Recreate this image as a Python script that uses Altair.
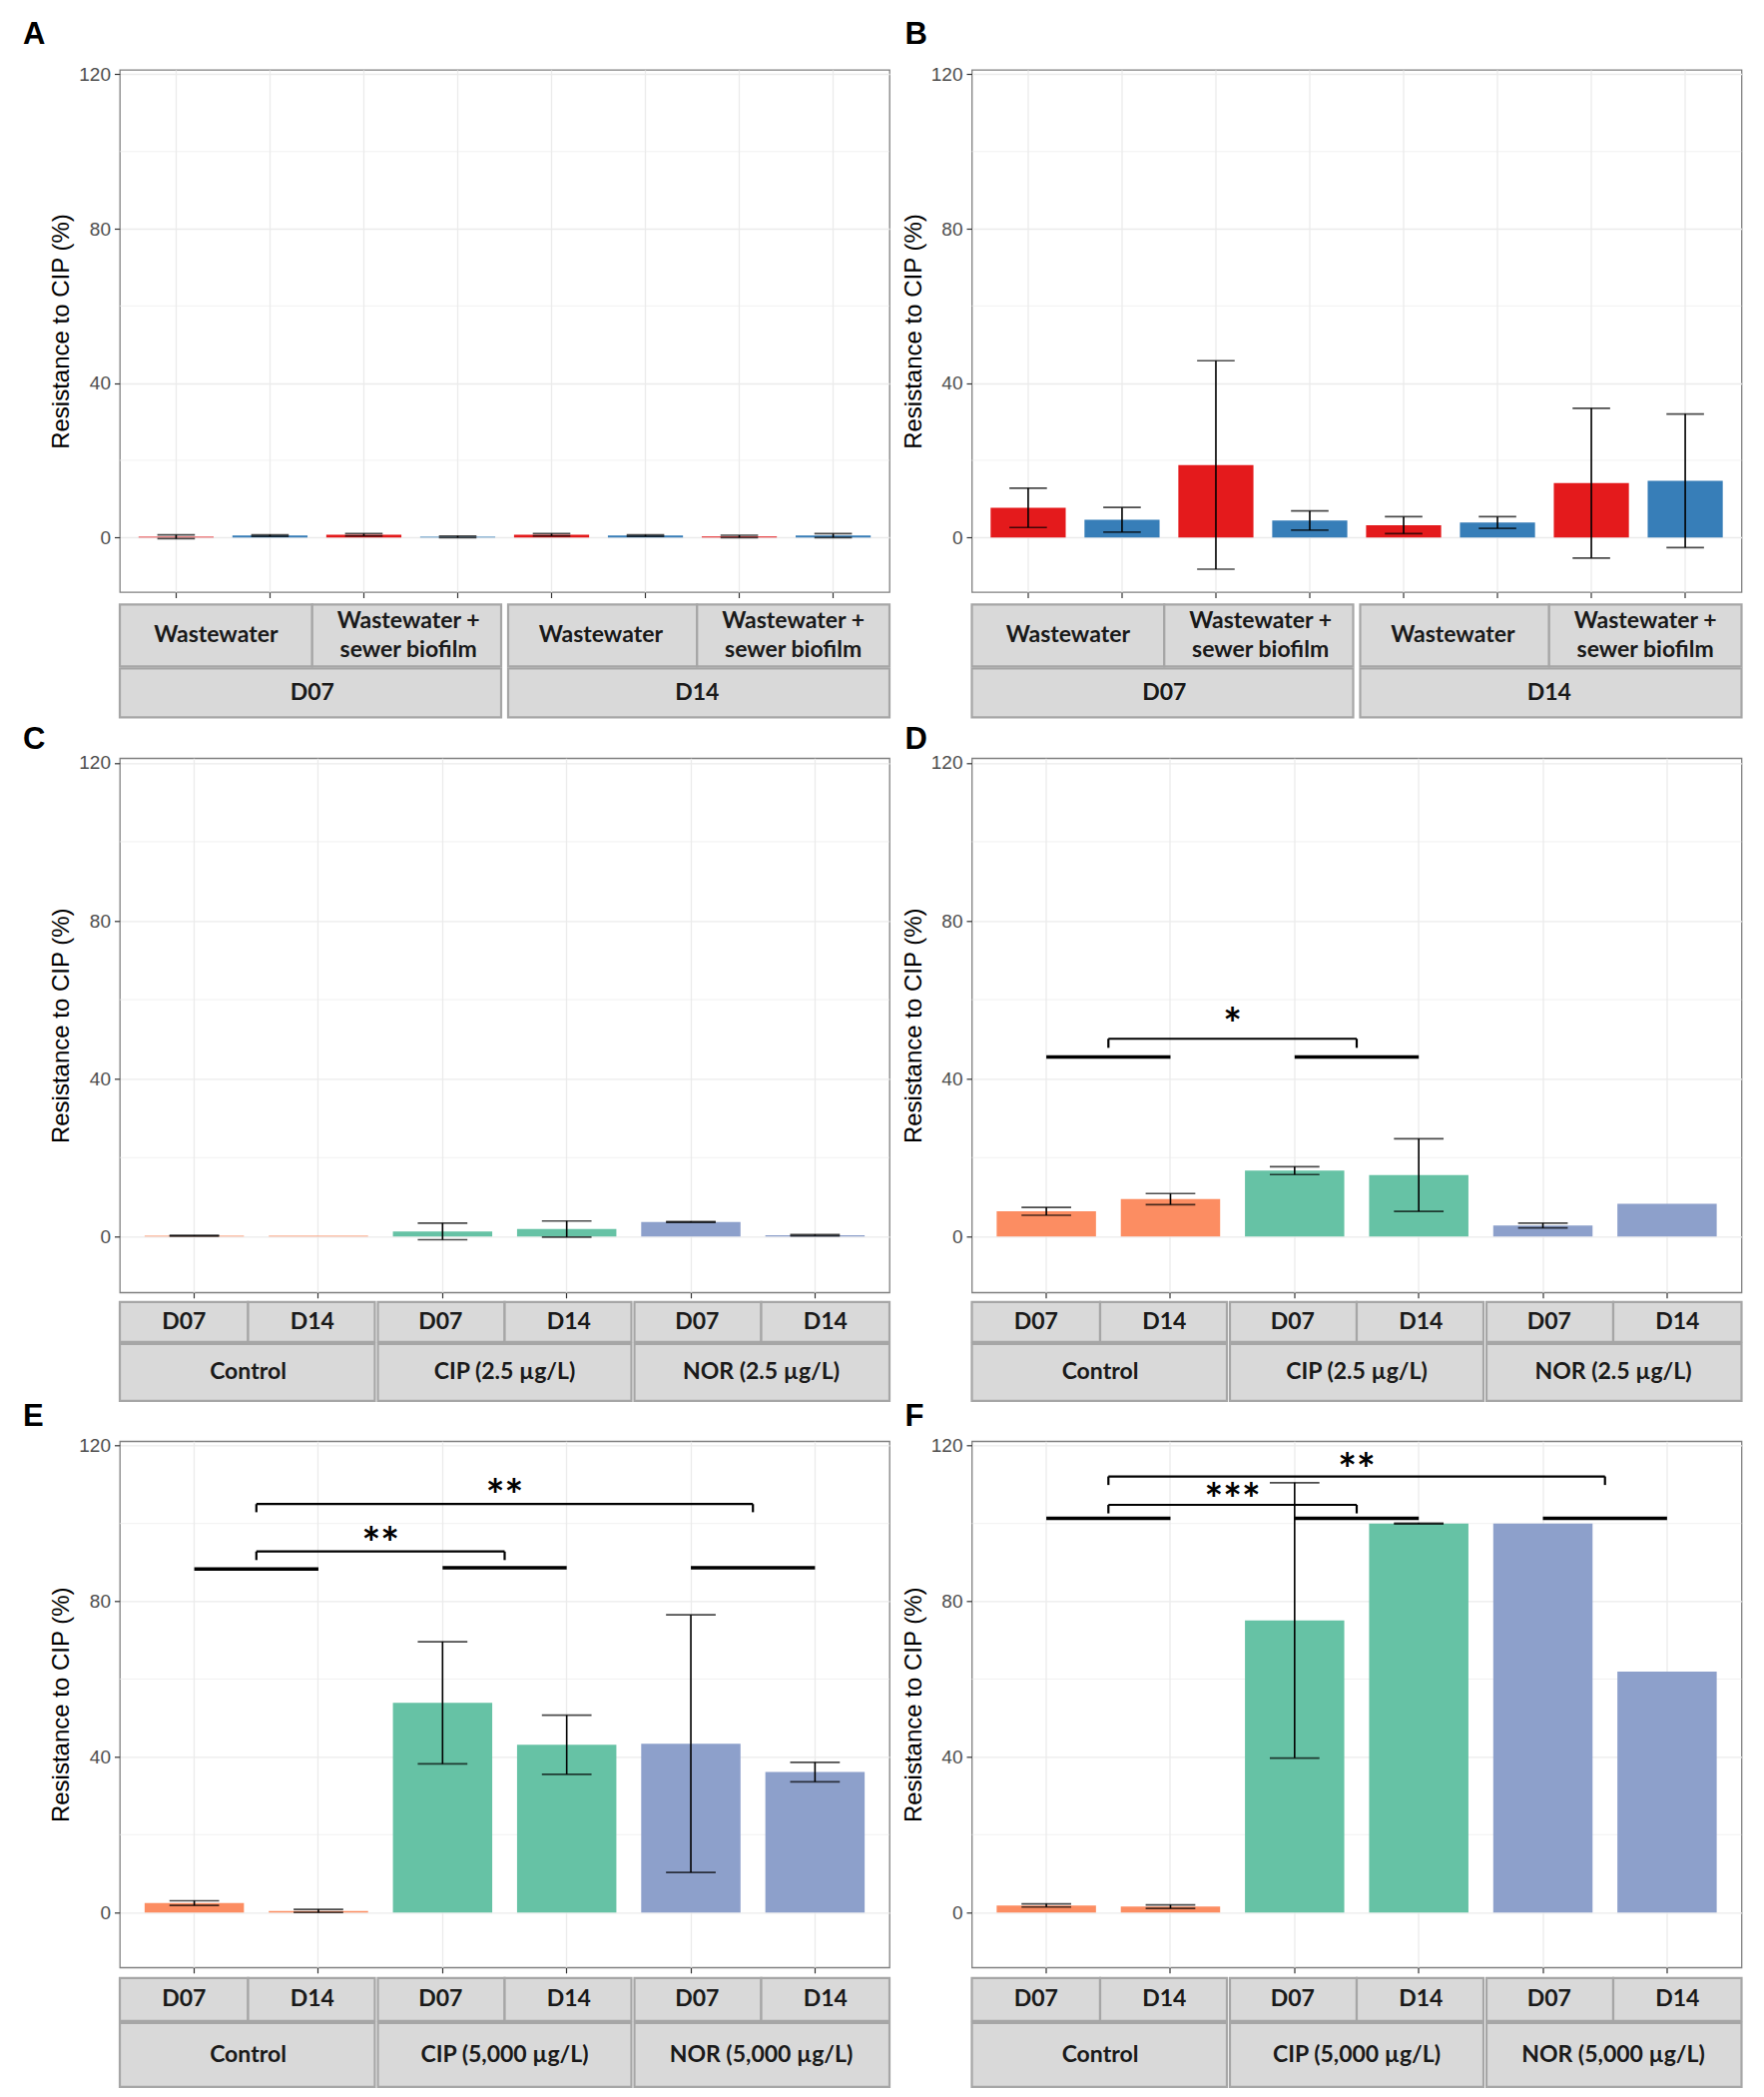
import altair as alt
import pandas as pd

# ---------------- data ----------------
# Panels A/B: two days x two matrices x two series (red / blue)
ab_days = ["D07", "D14"]
ab_matrices = ["Wastewater", "Wastewater +\nsewer biofilm"]
ab_series = ["S1", "S2"]
ab_colors = ["#E41A1C", "#377EB8"]

a_mean = [0.2, 0.5, 0.7, 0.2, 0.7, 0.5, 0.3, 0.5]
a_sd = [0.5, 0.2, 0.3, 0.2, 0.3, 0.2, 0.3, 0.5]
b_mean = [7.7, 4.6, 18.8, 4.4, 3.2, 3.9, 14.1, 14.7]
b_sd = [5.1, 3.2, 27.0, 2.5, 2.2, 1.5, 19.4, 17.3]

# Panels C-F: three treatments x two days
cf_days = ["D07", "D14"]
cd_treatments = ["Control", "CIP (2.5 µg/L)", "NOR (2.5 µg/L)"]
ef_treatments = ["Control", "CIP (5,000 µg/L)", "NOR (5,000 µg/L)"]
cf_colors = ["#FC8D62", "#66C2A5", "#8DA0CB"]

c_mean = [0.2, 0.2, 1.3, 1.9, 3.7, 0.35]
c_sd = [0.1, None, 2.1, 2.05, 0.1, 0.15]
d_mean = [6.4, 9.5, 16.7, 15.6, 2.8, 8.3]
d_sd = [1.0, 1.4, 1.0, 9.2, 0.6, None]
e_mean = [2.4, 0.4, 53.9, 43.1, 43.4, 36.1]
e_sd = [0.6, 0.4, 15.7, 7.6, 33.1, 2.5]
f_mean = [1.8, 1.5, 75.1, 100.0, 100.0, 61.9]
f_sd = [0.4, 0.45, 35.4, 0.1, None, None]

# significance annotations (group index, y values, labels)
d_line_groups = [0, 1]
d_line_y = [45.5, 45.5]
d_br_from = [0]
d_br_to = [1]
d_br_top = [50.1]
d_br_leg = [47.8]
d_br_label = ["*"]
d_br_label_y = [55.9]

e_line_groups = [0, 1, 2]
e_line_y = [88.3, 88.6, 88.6]
e_br_from = [0, 0]
e_br_to = [1, 2]
e_br_top = [92.8, 105.0]
e_br_leg = [90.6, 102.9]
e_br_label = ["**", "**"]
e_br_label_y = [97.1, 109.5]

f_line_groups = [0, 1, 2]
f_line_y = [101.3, 101.3, 101.3]
f_br_from = [0, 0]
f_br_to = [1, 2]
f_br_top = [104.8, 112.1]
f_br_leg = [102.6, 109.9]
f_br_label = ["***", "**"]
f_br_label_y = [108.3, 116.0]

y_ticks = [0, 40, 80, 120]
y_minor = [20, 60, 100]
Y_DOMAIN = [-14.15, 121.15]

# ---------------- style ----------------
W = 771
ROW_H = [523, 535, 527]
STRIP_FILL = "#D9D9D9"
STRIP_STROKE = "#A6A6A6"
STRIP_FONT = "Lato"
GRID = "#EBEBEB"
LETTER_FONT = "Liberation Sans"
TICK_FONT = "Liberation Sans Narrow, Arial Narrow, Liberation Sans, sans-serif"
LINE_H = 29
STAR_SIZE = 44


def make_plot(keys, means, sds, colors, H, letter, ldx, ldy,
              line_groups=None, line_y=None, br_from=None, br_to=None,
              br_top=None, br_leg=None, br_label=None, br_label_y=None,
              group_size=2):
    n = len(keys)
    step = W / (n + 0.2)
    cap = 0.4 * step
    df = pd.DataFrame({"key": keys, "mean": means, "sd": sds, "col": colors})
    df["lo"] = df["mean"] - df["sd"]
    df["hi"] = df["mean"] + df["sd"]
    err = df.dropna(subset=["sd"])

    xs = alt.Scale(domain=keys, paddingInner=0.2, paddingOuter=0.2)
    # linear twin of the band scale: index i sits on the centre of band i
    xl = alt.Scale(domain=[-0.6, n - 0.4], nice=False, zero=False)
    ys = alt.Scale(domain=Y_DOMAIN, nice=False, zero=False)
    xaxis = alt.Axis(title=None, labels=False, ticks=True, tickSize=5.5,
                     tickColor="#333333", tickWidth=1.2, domain=False,
                     grid=True, gridColor=GRID, gridWidth=1.3, bandPosition=0.5)
    yaxis = alt.Axis(title="Resistance to CIP (%)", values=y_ticks,
                     titleFont="Liberation Sans", titleFontSize=24,
                     titleFontWeight="normal", titleColor="#000000",
                     titlePadding=5, labelFont=TICK_FONT, labelFontSize=19,
                     labelColor="#4D4D4D", labelPadding=4, tickSize=5.5,
                     tickColor="#333333", tickWidth=1.2, domain=False,
                     grid=True, gridColor=GRID, gridWidth=1.3)

    minor = alt.Chart(pd.DataFrame({"v": y_minor})).mark_rule(
        color=GRID, strokeWidth=0.7).encode(
        y=alt.Y("v:Q", scale=ys, axis=yaxis))
    bars = alt.Chart(df).mark_bar().encode(
        x=alt.X("key:N", scale=xs, axis=xaxis),
        y=alt.Y("mean:Q", scale=ys, axis=yaxis),
        y2=alt.datum(0),
        color=alt.Color("col:N", scale=None),
    )
    ebar = alt.Chart(err).mark_rule(color="black", strokeWidth=1.6).encode(
        x=alt.X("key:N", scale=xs, axis=xaxis),
        y=alt.Y("lo:Q", scale=ys, axis=yaxis),
        y2="hi:Q",
    )
    cap_lo = alt.Chart(err).mark_tick(color="black", orient="horizontal",
                                      size=cap, thickness=1.7).encode(
        x=alt.X("key:N", scale=xs, axis=xaxis),
        y=alt.Y("lo:Q", scale=ys, axis=yaxis),
    )
    cap_hi = alt.Chart(err).mark_tick(color="black", orient="horizontal",
                                      size=cap, thickness=1.7).encode(
        x=alt.X("key:N", scale=xs, axis=xaxis),
        y=alt.Y("hi:Q", scale=ys, axis=yaxis),
    )
    base_layers = alt.layer(minor, bars, ebar, cap_lo, cap_hi)

    if not line_groups:
        plot = base_layers
    else:
        gs = group_size
        gl = pd.DataFrame({
            "gfrom": [g * gs for g in line_groups],
            "gto": [g * gs + gs - 1 for g in line_groups],
            "gy": line_y,
        })
        glines = alt.Chart(gl).mark_rule(color="black", strokeWidth=3.5).encode(
            x=alt.X("gfrom:Q", scale=xl, axis=None),
            x2="gto:Q",
            y=alt.Y("gy:Q", scale=ys, axis=yaxis),
        )
        mid = lambda g: g * gs + (gs - 1) / 2
        br = pd.DataFrame({
            "bfrom": [mid(g) for g in br_from],
            "bto": [mid(g) for g in br_to],
            "btop": br_top,
        })
        brl = alt.Chart(br).mark_rule(color="black", strokeWidth=2.2).encode(
            x=alt.X("bfrom:Q", scale=xl, axis=None),
            x2="bto:Q",
            y=alt.Y("btop:Q", scale=ys, axis=yaxis),
        )
        legs = pd.DataFrame({
            "lk": [mid(g) for g in br_from] + [mid(g) for g in br_to],
            "ltop": list(br_top) + list(br_top),
            "lleg": list(br_leg) + list(br_leg),
        })
        legl = alt.Chart(legs).mark_rule(color="black", strokeWidth=2.2).encode(
            x=alt.X("lk:Q", scale=xl, axis=None),
            y=alt.Y("ltop:Q", scale=ys, axis=yaxis),
            y2="lleg:Q",
        )
        txt = pd.DataFrame({
            "tk": [(mid(a) + mid(b)) / 2 for a, b in zip(br_from, br_to)],
            "ty": br_label_y,
            "tl": br_label,
        })
        txtl = alt.Chart(txt).mark_text(
            font=STRIP_FONT, fontWeight="bold", fontSize=STAR_SIZE, color="black",
            baseline="middle", dy=STAR_SIZE * 0.25).encode(
            x=alt.X("tk:Q", scale=xl, axis=None),
            y=alt.Y("ty:Q", scale=ys, axis=yaxis),
            text="tl:N",
        )
        ann = alt.layer(glines, brl, legl, txtl)
        plot = alt.layer(base_layers, ann).resolve_scale(x="independent")

    return plot.properties(
        width=W, height=H,
        view=alt.ViewBackground(stroke="#808080", strokeWidth=1.3),
        title=alt.TitleParams(text=letter, anchor="start", frame="group",
                              orient="top", font=LETTER_FONT, fontSize=31,
                              fontWeight="bold", color="#000000",
                              baseline="alphabetic", offset=0, dx=ldx, dy=ldy),
    )


def strip_row(labels, span, group_size, n, h, gap_px):
    inset = gap_px / 2 * n / W
    rows = []
    for i, lab in enumerate(labels):
        lo = i * span
        hi = lo + span
        lo2 = lo + inset if (lo % group_size == 0 and lo > 0) else lo
        hi2 = hi - inset if (hi % group_size == 0 and hi < n) else hi
        rows.append({"lo": lo2, "hi": hi2, "mid": (lo + hi) / 2, "label": lab,
                     "nlines": lab.count("\n") + 1})
    df = pd.DataFrame(rows)
    sx = alt.Scale(domain=[0, n], nice=False, zero=False)
    rect = alt.Chart(df).mark_rect(fill=STRIP_FILL, stroke=STRIP_STROKE,
                                   strokeWidth=2.2).encode(
        x=alt.X("lo:Q", scale=sx, axis=None),
        x2="hi:Q",
        y=alt.value(0),
        y2=alt.value(h),
    )
    layers = [rect]
    for k in sorted(df["nlines"].unique()):
        layers.append(alt.Chart(df).transform_filter(
            alt.datum.nlines == int(k)).mark_text(
            font=STRIP_FONT, fontWeight="bold", fontSize=23, color="#1A1A1A",
            lineBreak="\n", lineHeight=LINE_H, baseline="middle",
            dy=-(int(k) - 1) * LINE_H / 2).encode(
            x=alt.X("mid:Q", scale=sx, axis=None),
            y=alt.value(h / 2),
            text="label:N",
        ))
    return alt.layer(*layers).properties(width=W, height=h)


def ab_panel(means, sds, letter, ldx, ldy):
    keys, colors = [], []
    for d in ab_days:
        for m in ab_matrices:
            for s, c in zip(ab_series, ab_colors):
                keys.append(f"{d}|{m}|{s}")
                colors.append(c)
    n = len(keys)
    plot = make_plot(keys, means, sds, colors, ROW_H[0], letter, ldx, ldy)
    inner_labels = [m for d in ab_days for m in ab_matrices]
    inner = strip_row(inner_labels, 2, 4, n, 62, 7)
    outer = strip_row(ab_days, 4, 4, n, 49, 7)
    return alt.vconcat(plot, alt.vconcat(inner, outer, spacing=-2.2), spacing=3.4)


def cf_panel(treatments, means, sds, H, h_in, h_out, gap, letter, ldx, ldy, ann=None):
    keys, colors = [], []
    for t, c in zip(treatments, cf_colors):
        for d in cf_days:
            keys.append(f"{t}|{d}")
            colors.append(c)
    n = len(keys)
    ann = ann or {}
    plot = make_plot(keys, means, sds, colors, H, letter, ldx, ldy, **ann)
    inner_labels = [d for t in treatments for d in cf_days]
    inner = strip_row(inner_labels, 1, 2, n, h_in, 3)
    outer = strip_row(treatments, 2, 2, n, h_out, 3)
    return alt.vconcat(plot, alt.vconcat(inner, outer, spacing=-2.2), spacing=gap)


pA = ab_panel(a_mean, a_sd, "A", -97, 10)
pB = ab_panel(b_mean, b_sd, "B", -67, 10)
pC = cf_panel(cd_treatments, c_mean, c_sd, ROW_H[1], 40, 57, 0.5, "C", -97, 26.3)
pD = cf_panel(cd_treatments, d_mean, d_sd, ROW_H[1], 40, 57, 0.5, "D", -67, 26.3,
              dict(line_groups=d_line_groups, line_y=d_line_y, br_from=d_br_from,
                   br_to=d_br_to, br_top=d_br_top, br_leg=d_br_leg,
                   br_label=d_br_label, br_label_y=d_br_label_y))
pE = cf_panel(ef_treatments, e_mean, e_sd, ROW_H[2], 43, 64, 1.5, "E", -97, 20.5,
              dict(line_groups=e_line_groups, line_y=e_line_y, br_from=e_br_from,
                   br_to=e_br_to, br_top=e_br_top, br_leg=e_br_leg,
                   br_label=e_br_label, br_label_y=e_br_label_y))
pF = cf_panel(ef_treatments, f_mean, f_sd, ROW_H[2], 43, 64, 1.5, "F", -67, 20.5,
              dict(line_groups=f_line_groups, line_y=f_line_y, br_from=f_br_from,
                   br_to=f_br_to, br_top=f_br_top, br_leg=f_br_leg,
                   br_label=f_br_label, br_label_y=f_br_label_y))

row1 = alt.hconcat(pA, pB, spacing=9.5)
row2 = alt.hconcat(pC, pD, spacing=9.5)
row3 = alt.hconcat(pE, pF, spacing=9.5)

chart = alt.vconcat(alt.vconcat(row1, row2, spacing=4.3), row3, spacing=-1.7).properties(
    padding={"left": 14, "top": 10, "right": 2, "bottom": 2},
    background="white",
).configure_view(stroke=None)

chart.save("out.html", embed_options={"renderer": "svg", "actions": False})
